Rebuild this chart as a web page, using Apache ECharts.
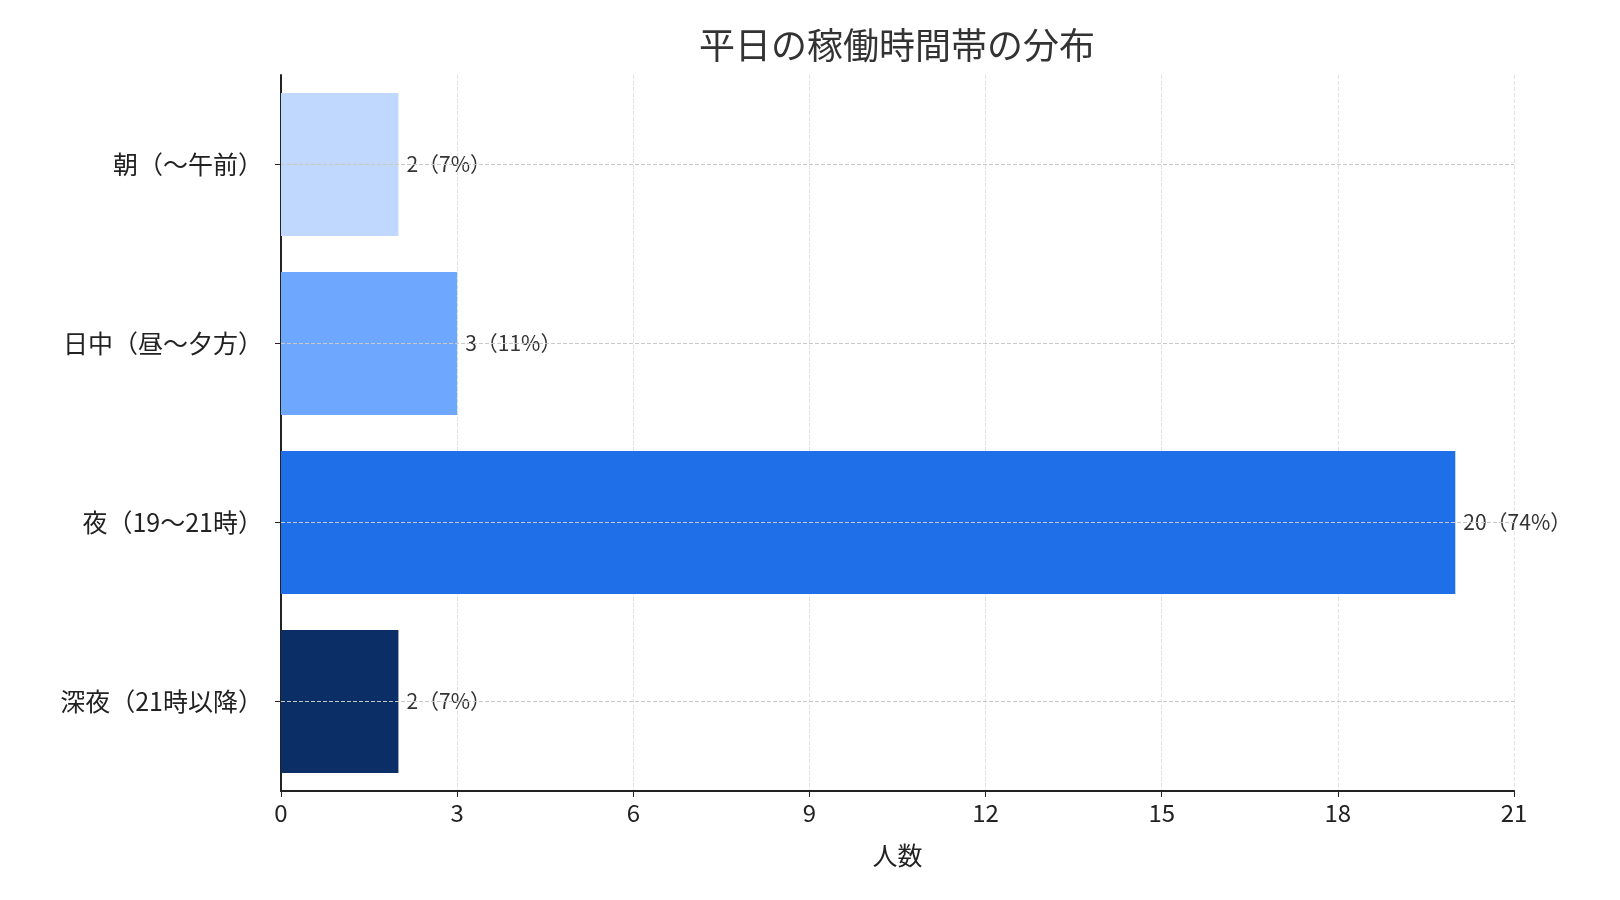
<!DOCTYPE html>
<html><head><meta charset="utf-8">
<script src="https://cdn.jsdelivr.net/npm/echarts@6/dist/echarts.min.js"></script>
<style>html,body{margin:0;padding:0;background:#fff}#c{width:1620px;height:900px}</style>
</head><body><div id="c"></div>
<script>
const categories = ['朝（〜午前）','日中（昼〜夕方）','夜（19〜21時）','深夜（21時以降）'];
const values = [2,3,20,2];
const percents = ['7%','11%','74%','7%'];
const colors = ['#c0d8fe','#6ea8fe','#1f6fe8','#0a2e65'];
const font = '"Noto Sans CJK JP","Noto Sans",sans-serif';
const chart = echarts.init(document.getElementById('c'));
chart.setOption({
  animation:false,
  textStyle:{fontFamily:font},
  title:{text:'平日の稼働時間帯の分布',left:892,top:22,textAlign:'center',textStyle:{fontSize:36,fontWeight:'normal',color:'#333',fontFamily:font}},
  grid:{left:281,right:106,top:75,bottom:109},
  xAxis:{type:'value',min:0,max:21,interval:3,name:'人数',nameLocation:'middle',nameGap:52,
    nameTextStyle:{fontSize:25,color:'#222'},
    axisLine:{show:true,lineStyle:{color:'#222',width:2}},
    axisTick:{show:true,length:6,lineStyle:{color:'#222'}},
    axisLabel:{fontSize:24,color:'#222',margin:10},
    splitLine:{show:true,lineStyle:{type:'dashed',color:'#e2e2e2'}}},
  yAxis:{type:'category',data:categories,inverse:true,
    axisLine:{show:true,lineStyle:{color:'#222',width:2}},
    axisTick:{show:true,alignWithLabel:true,length:6,lineStyle:{color:'#222'}},
    axisLabel:{fontSize:25,color:'#222',margin:18},
    splitLine:{show:false}},
  series:[{type:'bar',z:1,barCategoryGap:'20%',
    data:values.map((v,i)=>({value:v,itemStyle:{color:colors[i]}})),
    label:{show:true,position:'right',distance:8,fontSize:21,color:'#333',
      formatter:p=>p.value+'（'+percents[p.dataIndex]+'）'}},
   {type:'line',data:[],z:10,markLine:{symbol:'none',silent:true,label:{show:false},
     lineStyle:{type:'dashed',color:'#c8c8c8',width:1},
     data:categories.map(c=>({yAxis:c}))}}]
});
</script></body></html>
